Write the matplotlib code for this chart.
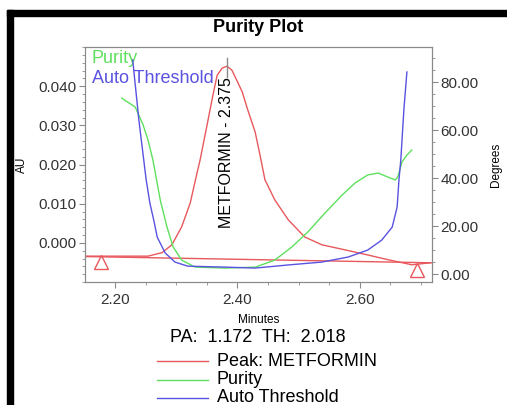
import matplotlib
matplotlib.use("Agg")
import matplotlib.pyplot as plt
from matplotlib.patches import Rectangle
from matplotlib.lines import Line2D
from matplotlib.ticker import MultipleLocator, FormatStrFormatter

plt.rcParams['font.family'] = ['Liberation Sans', 'DejaVu Sans']

# peak trace (AU)
peak_t = [2.151, 2.254, 2.277, 2.293, 2.309, 2.323, 2.334, 2.339, 2.352, 2.360,
          2.367, 2.375, 2.383, 2.391, 2.399, 2.408, 2.417, 2.429, 2.437, 2.445,
          2.461, 2.483, 2.510, 2.538, 2.576, 2.613, 2.646, 2.685, 2.715]
peak_au = [-0.0034, -0.0034, -0.0025, -0.0005, 0.0041, 0.0102, 0.0178, 0.0211, 0.0313, 0.0377,
           0.0428, 0.0446, 0.0451, 0.0441, 0.0415, 0.0385, 0.0339, 0.0283, 0.0224, 0.0161,
           0.0110, 0.0059, 0.0015, -0.0005, -0.0018, -0.0031, -0.0043, -0.0056, -0.0051]

# baseline + its markers
base_t = [2.151, 2.718]
base_au = [-0.0035, -0.0051]
mark_t = [2.177, 2.693]
mark_au = [-0.0050, -0.0069]

# purity angle (degrees)
pur_t = [2.211, 2.233, 2.246, 2.254, 2.262, 2.274, 2.285, 2.295, 2.309, 2.331,
         2.380, 2.429, 2.461, 2.489, 2.515, 2.543, 2.571, 2.592, 2.613, 2.630,
         2.646, 2.658, 2.662, 2.669, 2.677, 2.685]
pur_deg = [73.3, 69.6, 62.1, 55.8, 47.5, 30.8, 19.6, 11.3, 5.8, 2.9,
           2.5, 2.9, 5.8, 11.3, 17.5, 25.4, 32.9, 37.9, 41.3, 42.1,
           40.4, 39.2, 40.4, 46.7, 49.6, 51.7]

# auto threshold (degrees)
thr_t = [2.229, 2.234, 2.239, 2.246, 2.251, 2.257, 2.264, 2.269, 2.282, 2.298,
         2.319, 2.380, 2.429, 2.483, 2.538, 2.581, 2.613, 2.636, 2.653, 2.661,
         2.664, 2.667, 2.669, 2.672, 2.677]
thr_deg = [89.2, 76.7, 64.2, 49.6, 39.2, 29.6, 21.7, 15.4, 8.8, 5.0,
           3.3, 2.9, 2.5, 3.8, 5.0, 7.1, 10.0, 14.2, 19.6, 27.9,
           39.2, 47.5, 55.8, 68.3, 84.2]

peak_name = "METFORMIN"
peak_rt = 2.383
peak_label = "2.375"
pa_val = 1.172
th_val = 2.018

red = '#e8585c'
green = '#5ee05e'
blue = '#5a52e0'
gray = '#8a8a8a'

fig = plt.figure(figsize=(5.07, 4.05), dpi=100)
fig.patches.append(Rectangle((7/507, 0), 6/507, 1 - 10/405, transform=fig.transFigure,
                             color='black', zorder=10))
fig.patches.append(Rectangle((7/507, 1 - 16/405), 1, 6/405, transform=fig.transFigure,
                             color='black', zorder=10))

ax = fig.add_axes([85/507, 1 - 282/405, 347/507, 235/405])
ax2 = ax.twinx()

ax.plot(peak_t, peak_au, color=red, lw=1)
ax.plot(base_t, base_au, color=red, lw=1)
ax.plot(mark_t, mark_au, ls='none', marker='^', ms=10, mfc='none', mec=red, mew=1)
ax2.plot(pur_t, pur_deg, color=green, lw=1)
ax2.plot(thr_t, thr_deg, color=blue, lw=1)

ax.set_xlim(2.151, 2.718)
ax.set_ylim(-0.010, 0.050)
ax2.set_ylim(-3.3, 94.6)

ax.xaxis.set_major_locator(MultipleLocator(0.2))
ax.xaxis.set_minor_locator(MultipleLocator(0.05))
ax.xaxis.set_major_formatter(FormatStrFormatter('%.2f'))
ax.set_yticks([0.0, 0.01, 0.02, 0.03, 0.04])
ax.yaxis.set_minor_locator(MultipleLocator(0.002))
ax.yaxis.set_major_formatter(FormatStrFormatter('%.3f'))
ax2.set_yticks([0, 20, 40, 60, 80])
ax2.yaxis.set_minor_locator(MultipleLocator(5))
ax2.yaxis.set_major_formatter(FormatStrFormatter('%.2f'))

for a in (ax, ax2):
    for s in a.spines.values():
        s.set_color(gray)
        s.set_linewidth(0.8)
    a.tick_params(which='both', direction='out', color=gray, labelsize=11,
                  labelcolor='#333333')
    a.tick_params(which='major', length=4, pad=2)
    a.tick_params(which='minor', length=2.5)
ax.tick_params(axis='x', which='major', pad=4)

ax.set_xlabel('Minutes', fontsize=8.5)
ax.xaxis.set_label_coords(0.5, -0.136)
ax.set_ylabel('AU', fontsize=8.5)
ax.yaxis.set_label_coords(-0.165, 0.5)
ax2.set_ylabel('Degrees', fontsize=8.5)
ax2.yaxis.set_label_coords(1.168, 0.5)
fig.text(258/507, 1 - 28/405, 'Purity Plot', ha='center', va='center',
         fontsize=13, fontweight='bold')

# peak label
ax.plot([peak_rt, peak_rt], [0.0423, 0.0471], color=gray, lw=1)
ax.text(peak_rt, 0.0423, f'{peak_name} - {peak_label}', rotation=90,
        ha='center', va='top', fontsize=11.5)

# inner legend
ax.text(0.02, 0.953, 'Purity', color=green, transform=ax.transAxes, fontsize=13,
        va='center')
ax.text(0.02, 0.868, 'Auto Threshold', color=blue, transform=ax.transAxes, fontsize=13,
        va='center')

fig.text(258/507, 1 - 337/405, f'PA:  {pa_val:.3f}  TH:  {th_val:.3f}', ha='center',
         va='center', fontsize=13)
rows = [('Peak: ' + peak_name, red, 361), ('Purity', green, 380), ('Auto Threshold', blue, 398)]
for label, c, yp in rows:
    y = 1 - yp / 405
    fig.add_artist(Line2D([157/507, 208/507], [y, y], color=c, lw=1))
    fig.text(217/507, y, label, va='center', fontsize=13)

fig.savefig('out.png', dpi=100)
